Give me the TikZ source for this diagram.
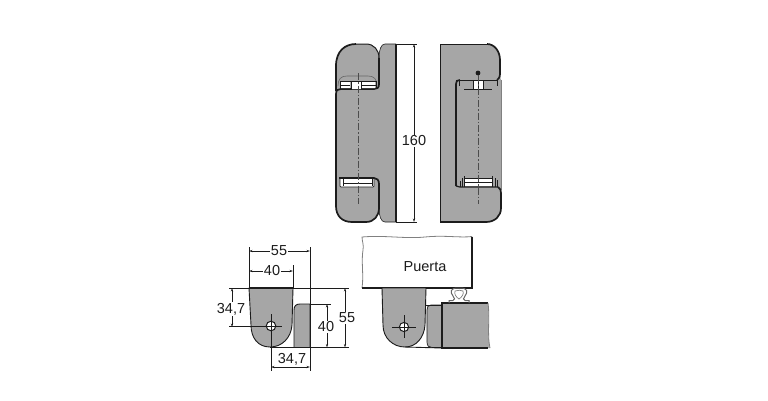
\documentclass[tikz,border=0pt]{standalone}
\usepackage{fontspec}
\setmainfont{Liberation Sans}
\usetikzlibrary{arrows.meta}
\definecolor{partgray}{HTML}{A6A6A6}
\definecolor{inkgray}{HTML}{1C1C1C}
\tikzset{
  part/.style={fill=partgray, draw=inkgray, line width=.9pt},
  heavy/.style={draw=inkgray, line width=1.7pt},
  thin edge/.style={draw=inkgray, line width=.6pt},
  torn/.style={draw=black!50, line width=.8pt},
  axisline/.style={draw=black!70, line width=.6pt, dash pattern=on 7pt off 2pt on 1.5pt off 2pt},
  extline/.style={draw=inkgray, line width=.6pt},
  dimline/.style={draw=inkgray, line width=.6pt, {Stealth[length=3.5pt,width=2.2pt]}-{Stealth[length=3.5pt,width=2.2pt]}},
  dimlabel/.style={font=\fontsize{14.5}{15}\selectfont, text=inkgray, inner sep=1pt, fill=white},
  window/.style={fill=white, draw=inkgray, line width=.7pt}
}
\begin{document}
\begin{tikzpicture}[x=1pt, y=-1pt]
  \useasboundingbox[fill=white] (0,0) rectangle (768,400);

  % left hinge, front
  \fill[partgray] (336,66) .. controls (336,51) and (345,44) .. (356,44) -- (366,44)
    .. controls (374,44) and (379,50) .. (379,58) .. controls (379,50) and (381,44) .. (385,44)
    -- (396,44) -- (396,222) -- (385,222) .. controls (381,222) and (379,216) .. (379,208)
    .. controls (379,216) and (374,222) .. (366,222) -- (352,222)
    .. controls (342,222) and (336,216) .. (336,206) -- cycle;
  \draw[heavy] (336,91) -- (336,66) .. controls (336,51) and (345,44) .. (356,44);
  \draw[thin edge, line width=1pt] (356,44) -- (366,44) .. controls (374,44) and (379,50) .. (379,58);
  \draw[heavy] (379,58) -- (379,84) .. controls (379,88) and (377,89) .. (374,89)
    -- (341,89) .. controls (338,89) and (336,90) .. (336,94) -- (336,206)
    .. controls (336,216) and (342,222) .. (352,222) -- (366,222)
    .. controls (374,222) and (379,216) .. (379,208) -- (379,184) .. controls (379,180) and (377,178) .. (374,178)
    -- (339,178);
  \draw[thin edge] (379,58) .. controls (379,50) and (381,44) .. (385,44) -- (396,44);
  \draw[thin edge] (379,208) .. controls (379,216) and (381,222) .. (385,222) -- (396,222);
  \draw[line width=1.1pt, draw=inkgray] (396,44) -- (396,222);
  \draw[thin edge, draw=black!60] (338,86) .. controls (338,79) and (341,76) .. (347,76) -- (368,76)
    .. controls (374,76) and (377,79) .. (377,86);
  \fill[white] (341,81) rectangle (350,88) (362,81) rectangle (375,88) (352,81) rectangle (361,89);
  \draw[thin edge] (340,81) -- (376,81) (340,85) -- (350,85) (362,85) -- (376,85)
    (340,81) -- (340,89) (351,81) -- (351,89) (361,81) -- (361,89) (376,81) -- (376,89);
  \draw[window] (340,179) -- (340,186) .. controls (340,187) and (341,187) .. (342,187) -- (372,187)
    .. controls (373,187) and (374,187) .. (374,186) -- (374,179);
  \fill[white] (343,179) rectangle (372,185);
  \draw[thin edge] (343,178) -- (343,186) (372,178) -- (372,186) (343,183) -- (372,183);
  \draw[axisline] (358,73) -- (358,204);

  % left hinge, height
  \draw[extline] (396,44) -- (417,44) (396,222) -- (417,222);
  \draw[dimline] (414,44) -- (414,222);
  \node[dimlabel] (heightlabel) at (414,141) {160};

  % right hinge, back
  \fill[partgray] (440,44) -- (487,44) .. controls (495,44) and (500,52) .. (500,60) -- (500,74)
    .. controls (500,78) and (501,79) .. (501,80) -- (501,208)
    .. controls (501,216) and (495,222) .. (486,222) -- (440,222) -- cycle;
  \draw[thin edge, line width=.9pt] (440,222) -- (440,44) -- (487,44);
  \draw[torn] (501,80) -- (501,190);
  \draw[heavy] (487,44) .. controls (495,44) and (500,52) .. (500,60) -- (500,74)
    .. controls (500,78) and (498,79) .. (497,80);
  \draw[heavy] (498,187) .. controls (500,188) and (501,190) .. (501,194) -- (501,208)
    .. controls (501,216) and (495,222) .. (486,222) -- (440,222);
  \draw[heavy] (456,186) -- (456,84) .. controls (456,81) and (457,80) .. (460,80);
  \draw[thin edge, line width=.9pt] (460,80) -- (497,80);
  \draw[heavy, line width=1.2pt] (456,184) .. controls (456,186) and (457,187) .. (460,187) -- (498,187);
  \draw[thin edge] (459,80) -- (459,86) (497,80) -- (497,86);
  \fill[white] (473,81) rectangle (483,89);
  \draw[thin edge] (473,81) -- (473,89) (478,81) -- (478,89) (483,81) -- (483,89);
  \draw[thin edge, line width=.9pt] (464,89.5) -- (492,89.5);
  \fill[inkgray] (478,73) circle (2.4pt);
  \fill[white] (464,178) rectangle (492,186);
  \draw[thin edge, line width=.8pt] (464,178) -- (492,178) (464,182) -- (492,182) (464,176) -- (464,187) (492,176) -- (492,187);
  \draw[thin edge] (460,181) -- (460,187) (462,178) -- (462,187) (495,178) -- (495,187) (497,180) -- (497,187);
  \draw[axisline] (478,75) -- (478,204);

  % plan, dimensioned
  \draw[part] (294,347.5) -- (294,310) .. controls (294,306) and (296,304) .. (300,304) -- (310,304) -- (310,347.5) -- cycle;
  \draw[part] (249,288) -- (293,288) -- (292,325) .. controls (291,338) and (282,347) .. (270,347)
    .. controls (258,347) and (251,338) .. (251,325) -- cycle;
  \draw[line width=1.1pt, draw=inkgray] (249,288) -- (293,288);
  \draw[thin edge, line width=.9pt] (270,347.5) -- (310,347.5);
  \draw[extline] (229,288) -- (349,288) (310,347.5) -- (349,347.5) (310,304) -- (331,304)
    (249,247) -- (249,288) (310,247) -- (310,347.5) (293,265) -- (293,288)
    (271,347.5) -- (271,371) (310,347.5) -- (310,371);
  \draw[dimline] (249,251) -- (310,251);
  \draw[dimline] (249,271) -- (293,271);
  \draw[dimline] (232,288) -- (232,327);
  \draw[dimline] (345,288) -- (345,347.5);
  \draw[dimline] (327,304) -- (327,347.5);
  \draw[dimline] (271,367) -- (310,367);
  \draw[extline] (229,326) -- (282,326) (271,314) -- (271,347);
  \draw[window, line width=1pt] (271,326) circle (4.8pt);
  \draw[extline] (265,326) -- (277,326) (271,320) -- (271,332);
  \node[dimlabel] (widelabel) at (279,251) {55};
  \node[dimlabel] (narrowlabel) at (272,271) {40};
  \node[dimlabel] (offsetlabel) at (231,309) {34,7};
  \node[dimlabel] (depthlabel) at (347,318) {55};
  \node[dimlabel] (blocklabel) at (326,327) {40};
  \node[dimlabel, fill=none] (bottomlabel) at (292,359) {34,7};

  % plan, mounted on the door
  \draw[torn] (362,288) .. controls (364,275) and (361,262) .. (363,250) .. controls (364,245) and (362,241) .. (362,237)
    .. controls (385,235) and (405,239) .. (425,237) .. controls (445,235) and (460,238) .. (472,236.5);
  \draw[line width=1.1pt, draw=inkgray] (472,236.5) -- (472,288) -- (362,288);
  \node[dimlabel, fill=none] (doorlabel) at (425,267) {Puerta};
  \draw[part] (382,288) -- (426,288) -- (425,325) .. controls (424,338) and (416,347) .. (405,347)
    .. controls (393,347) and (383,338) .. (383,325) -- cycle;
  \draw[thin edge, line width=.9pt] (405,347) -- (442,348);
  \draw[fill=partgray, draw=inkgray, line width=.7pt] (442,305) -- (431,305) .. controls (428,305) and (427,307) .. (427,310)
    -- (427,342) .. controls (427,346) and (429,347.5) .. (432,347.5) -- (442,347.5) -- cycle;
  \draw[thin edge, line width=.9pt] (426,305) -- (442,305);
  \fill[partgray] (442,303) -- (488,303) .. controls (490,315) and (487,335) .. (490,348) -- (442,348) -- cycle;
  \draw[line width=1.1pt, draw=inkgray] (488,303) -- (442,303) -- (442,348) -- (488,348);
  \draw[line width=1.5pt, draw=inkgray] (442,303) -- (442,348);
  \draw[torn] (488,303) .. controls (490,315) and (487,335) .. (490,348);
  \draw[thin edge, line width=1pt, draw=black!60] (449,303) -- (449,300.5) -- (453,300.5) .. controls (455,300) and (455,298) .. (453,296)
    .. controls (450,292) and (450,288) .. (458,288) -- (460,288) .. controls (468,288) and (468,292) .. (465,296)
    .. controls (463,298) and (463,300) .. (465,300.5) -- (469,300.5) -- (469,303);
  \draw[thin edge, line width=.7pt, draw=black!50] (455,291) .. controls (458,290) and (461,290) .. (463,291)
    .. controls (464,294) and (462,297) .. (459,299) .. controls (456,297) and (454,294) .. (455,291);
  \draw[extline] (392,327) -- (416,327) (404,315) -- (404,338);
  \draw[window, line width=1pt] (404,327) circle (4.6pt);
  \draw[extline] (398,327) -- (410,327) (404,321) -- (404,333);
\end{tikzpicture}
\end{document}
